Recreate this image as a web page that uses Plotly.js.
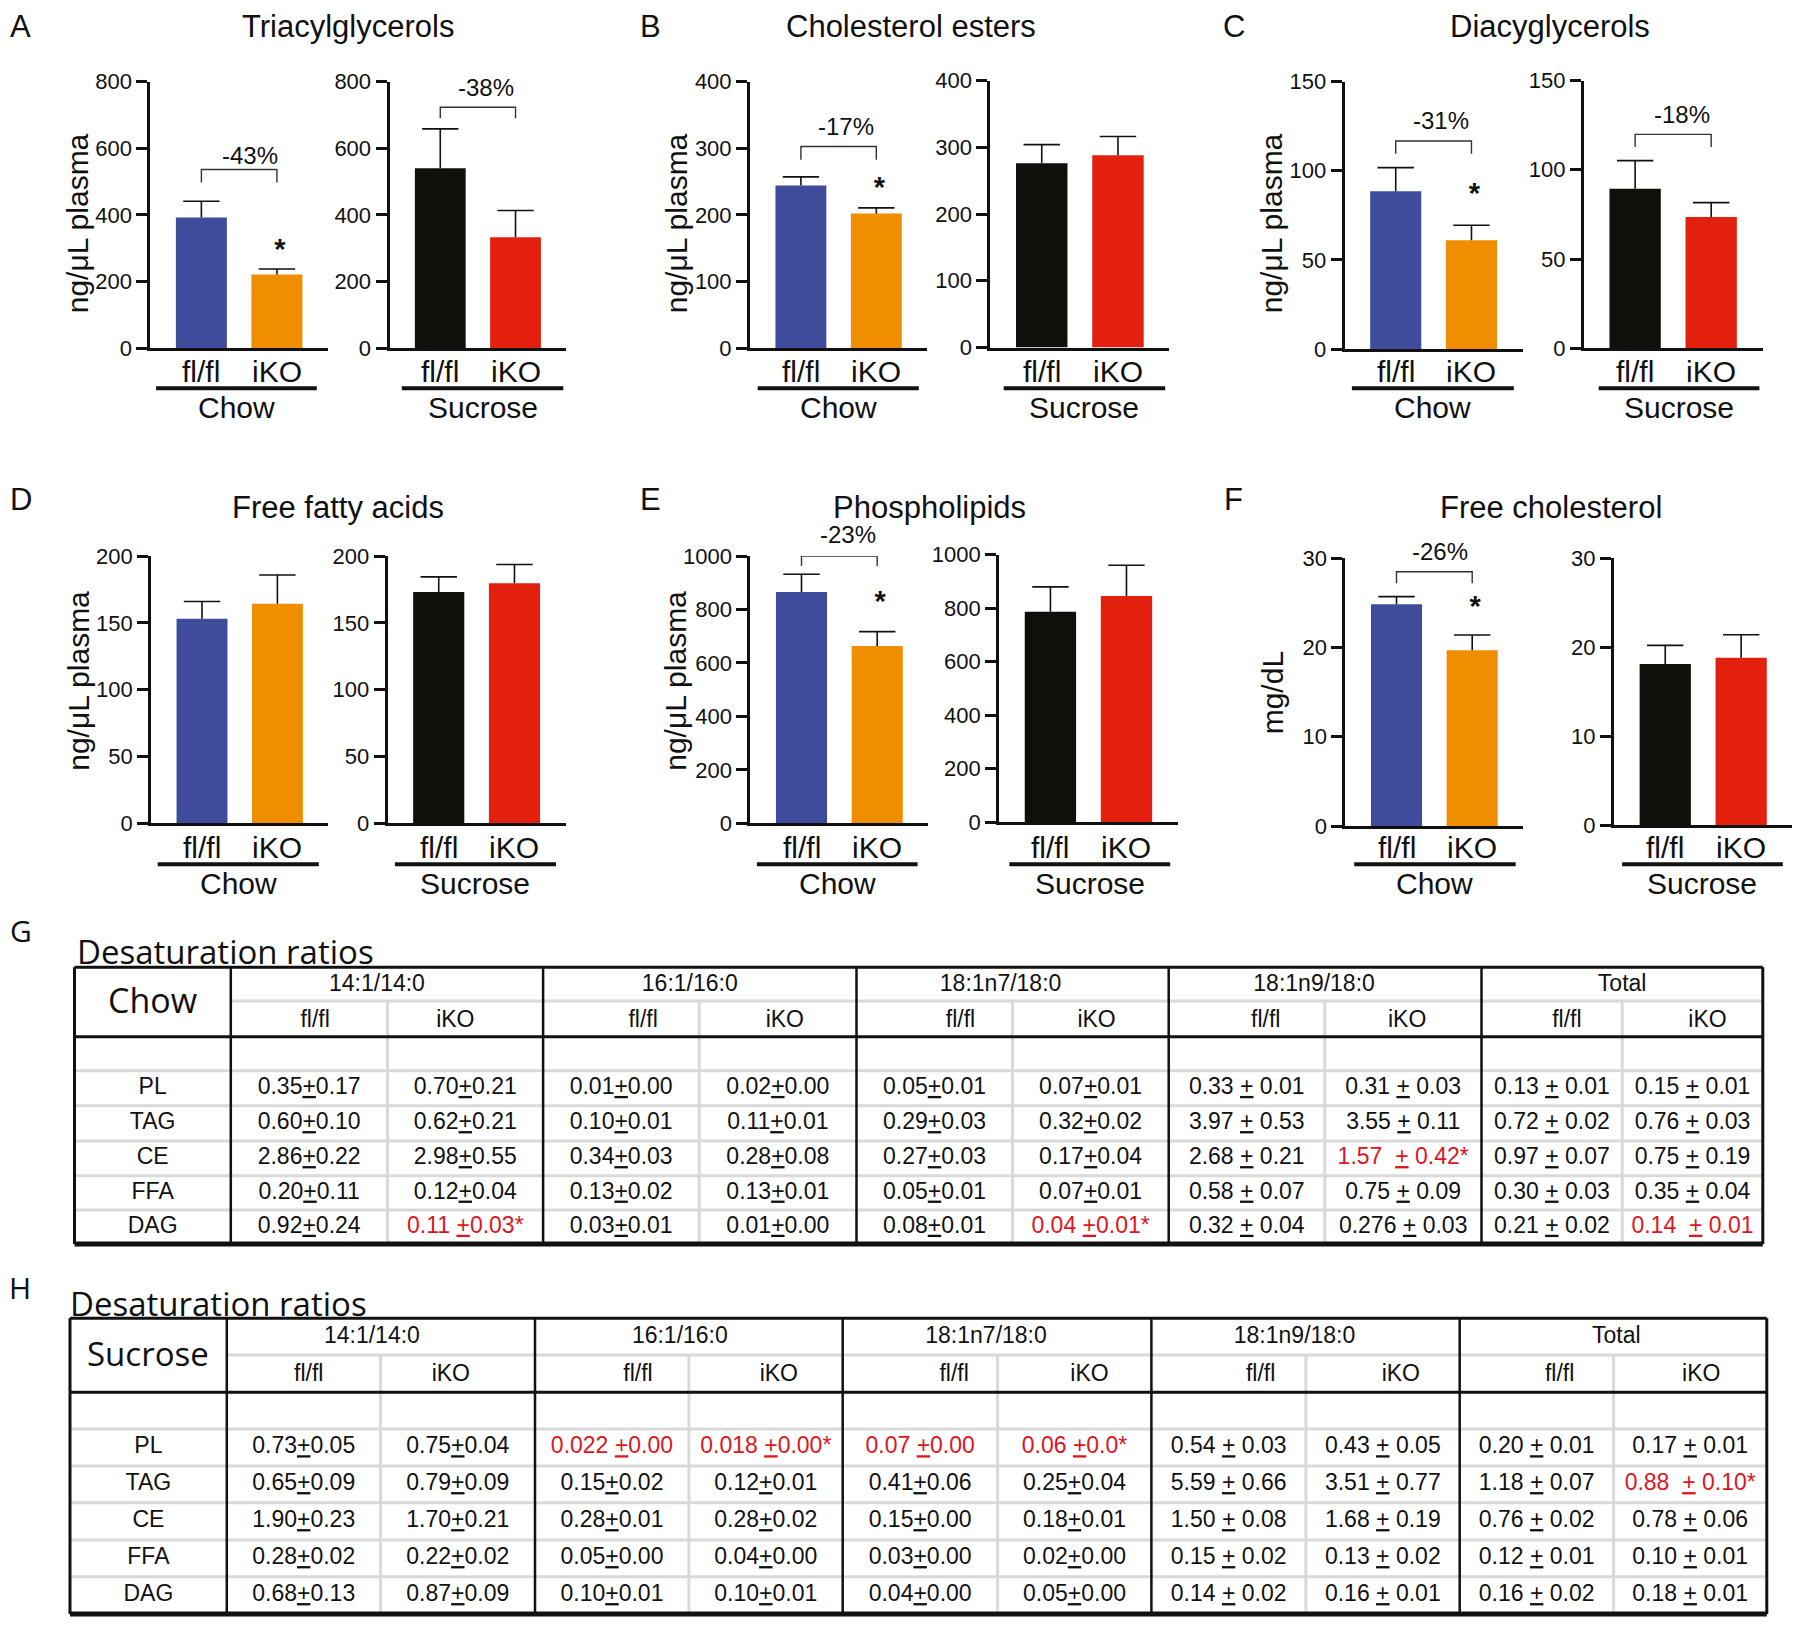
<!DOCTYPE html>
<html><head><meta charset="utf-8">
<script src="https://cdn.plot.ly/plotly-3.0.1.min.js"></script>
<style>body{margin:0;background:#fff}</style>
</head><body><div id="chart" style="width:1800px;height:1625px"></div>
<script>
// ================= DATA =================
const genotypes = ['fl/fl', 'iKO'];
// bar means and error (upper SEM)
const tgChow = [392, 221],   tgChowErr = [49, 17];
const tgSuc  = [540, 333],   tgSucErr  = [118, 80];
const ceChow = [244, 202],   ceChowErr = [13, 8.5];
const ceSuc  = [276, 288],   ceSucErr  = [28, 28];
const dagChow = [88.4, 61],  dagChowErr = [13.3, 8.4];
const dagSuc  = [89.4, 73.6], dagSucErr = [15.7, 8];
const ffaChow = [153, 164.3], ffaChowErr = [13, 21.5];
const ffaSuc  = [173, 179.6], ffaSucErr  = [11.4, 14];
const plChow = [865, 663],   plChowErr = [67, 54];
const plSuc  = [786, 845],   plSucErr  = [93, 115];
const fcChow = [24.85, 19.7], fcChowErr = [0.85, 1.7];
const fcSuc  = [18.1, 18.8],  fcSucErr  = [2.1, 2.6];

const panelTitles = ['Triacylglycerols', 'Cholesterol esters', 'Diacyglycerols', 'Free fatty acids', 'Phospholipids', 'Free cholesterol'];
const panelLetters = ['A', 'B', 'C', 'D', 'E', 'F'];
const yTitles = ['ng/μL plasma', 'ng/μL plasma', 'ng/μL plasma', 'ng/μL plasma', 'ng/μL plasma', 'mg/dL'];
const diets = ['Chow', 'Sucrose'];
const pctLabels = ['-43%', '-38%', '-17%', '-31%', '-18%', '-23%', '-26%'];

// Desaturation ratio tables
const tblGroups = ['14:1/14:0', '16:1/16:0', '18:1n7/18:0', '18:1n9/18:0', 'Total'];
const tblRows = ['PL', 'TAG', 'CE', 'FFA', 'DAG'];
const chowCells = [
  ['0.35±0.17', '0.60±0.10', '2.86±0.22', '0.20±0.11', '0.92±0.24'],
  ['0.70±0.21', '0.62±0.21', '2.98±0.55', '0.12±0.04', '0.11 ±0.03*'],
  ['0.01±0.00', '0.10±0.01', '0.34±0.03', '0.13±0.02', '0.03±0.01'],
  ['0.02±0.00', '0.11±0.01', '0.28±0.08', '0.13±0.01', '0.01±0.00'],
  ['0.05±0.01', '0.29±0.03', '0.27±0.03', '0.05±0.01', '0.08±0.01'],
  ['0.07±0.01', '0.32±0.02', '0.17±0.04', '0.07±0.01', '0.04 ±0.01*'],
  ['0.33 ± 0.01', '3.97 ± 0.53', '2.68 ± 0.21', '0.58 ± 0.07', '0.32 ± 0.04'],
  ['0.31 ± 0.03', '3.55 ± 0.11', '1.57  ± 0.42*', '0.75 ± 0.09', '0.276 ± 0.03'],
  ['0.13 ± 0.01', '0.72 ± 0.02', '0.97 ± 0.07', '0.30 ± 0.03', '0.21 ± 0.02'],
  ['0.15 ± 0.01', '0.76 ± 0.03', '0.75 ± 0.19', '0.35 ± 0.04', '0.14  ± 0.01']
];
const chowRed = [[1, 4], [5, 4], [7, 2], [9, 4]];
const sucCells = [
  ['0.73±0.05', '0.65±0.09', '1.90±0.23', '0.28±0.02', '0.68±0.13'],
  ['0.75±0.04', '0.79±0.09', '1.70±0.21', '0.22±0.02', '0.87±0.09'],
  ['0.022 ±0.00', '0.15±0.02', '0.28±0.01', '0.05±0.00', '0.10±0.01'],
  ['0.018 ±0.00*', '0.12±0.01', '0.28±0.02', '0.04±0.00', '0.10±0.01'],
  ['0.07 ±0.00', '0.41±0.06', '0.15±0.00', '0.03±0.00', '0.04±0.00'],
  ['0.06 ±0.0*', '0.25±0.04', '0.18±0.01', '0.02±0.00', '0.05±0.00'],
  ['0.54 ± 0.03', '5.59 ± 0.66', '1.50 ± 0.08', '0.15 ± 0.02', '0.14 ± 0.02'],
  ['0.43 ± 0.05', '3.51 ± 0.77', '1.68 ± 0.19', '0.13 ± 0.02', '0.16 ± 0.01'],
  ['0.20 ± 0.01', '1.18 ± 0.07', '0.76 ± 0.02', '0.12 ± 0.01', '0.16 ± 0.02'],
  ['0.17 ± 0.01', '0.88  ± 0.10*', '0.78 ± 0.06', '0.10 ± 0.01', '0.18 ± 0.01']
];
const sucRed = [[2, 0], [3, 0], [4, 0], [5, 0], [9, 1]];

// ================= LAYOUT CONFIG =================
const W = 1800, H = 1625;
const F = 'Liberation Sans, Arial, Helvetica, sans-serif';
const F2 = 'Open Sans, Noto Sans, sans-serif';
const colChow = ['#3e4c9b', '#f18e00'];
const colSuc = ['#100f0a', '#e2200d'];
const XR = [-0.675, 1.675];

const subplots = [
  {p:0, v:tgChow, e:tgChowErr, c:colChow, L:150.4, R:327.9, T:81.5, B:348.3, ymax:800, dt:200, ul:[156.1,316.8], br:[497,536], pct:0, pctY:579, pctX:0.65, star:289},
  {p:0, v:tgSuc, e:tgSucErr, c:colSuc, L:389.5, R:566.3, T:81.5, B:348.3, ymax:800, dt:200, ul:[401.8,563.3], br:[690,723], pct:1, pctY:781, pctX:0.61},
  {p:1, v:ceChow, e:ceChowErr, c:colChow, L:750, R:927.2, T:81.5, B:348.3, ymax:400, dt:100, ul:[757.7,918.8], br:[282.7,302.6], pct:2, pctY:332, pctX:0.6, star:238},
  {p:1, v:ceSuc, e:ceSucErr, c:colSuc, L:990.3, R:1169.4, T:80.5, B:347.5, ymax:400, dt:100, ul:[1003.7,1165.2]},
  {p:2, v:dagChow, e:dagChowErr, c:colChow, L:1344.6, R:1522.6, T:81.5, B:349, ymax:150, dt:50, ul:[1351.9,1513.8], br:[109.5,116.6], pct:3, pctY:128.2, pctX:0.6, star:86.2},
  {p:2, v:dagSuc, e:dagSucErr, c:colSuc, L:1583.8, R:1762.5, T:80.5, B:348.3, ymax:150, dt:50, ul:[1598.7,1759.4], br:[112.7,119.8], pct:4, pctY:131, pctX:0.61},
  {p:3, v:ffaChow, e:ffaChowErr, c:colChow, L:151.1, R:328.3, T:556, B:823.3, ymax:200, dt:50, ul:[157.7,318.8]},
  {p:3, v:ffaSuc, e:ffaSucErr, c:colSuc, L:387.6, R:565.6, T:556, B:823.3, ymax:200, dt:50, ul:[394.9,556]},
  {p:4, v:plChow, e:plChowErr, c:colChow, L:750.4, R:928.3, T:556, B:823.3, ymax:1000, dt:200, ul:[756.9,917.6], br:[962.6,1000], pct:5, pctY:1079, pctX:0.61, star:822},
  {p:4, v:plSuc, e:plSucErr, c:colSuc, L:999.1, R:1177.8, T:554.5, B:822.3, ymax:1000, dt:200, ul:[1009.4,1170.2]},
  {p:5, v:fcChow, e:fcChowErr, c:colChow, L:1345.4, R:1523.3, T:558.3, B:826, ymax:30, dt:10, ul:[1354.2,1515.7], br:[27.2,28.5], pct:6, pctY:30.75, pctX:0.58, star:24.4},
  {p:5, v:fcSuc, e:fcSucErr, c:colSuc, L:1614, R:1792.4, T:558.3, B:825, ymax:30, dt:10, ul:[1622.1,1782.8]}
];
const panelPos = [
  {tx:348.3, lx:20.5, yx:77, r:0}, {tx:911.3, lx:650.5, yx:676, r:0}, {tx:1550.1, lx:1234.4, yx:1271, r:0},
  {tx:338.3, lx:21, yx:79, r:1}, {tx:929.9, lx:650.5, yx:676, r:1}, {tx:1550.7, lx:1233.5, yx:1272, r:1}
];
const rowPos = [{titleY:26, letterY:26, tickY:371.5, ulY:388.3, dietY:407, yTitleY:223.3, yTitleYF:223.3},
                {titleY:507, letterY:499, tickY:847, ulY:864.3, dietY:883, yTitleY:680.8, yTitleYF:693.3}];

const tables = [
  {name:'Chow', cells:chowCells, red:chowRed, letter:'G', letterXY:[21,930], titleXY:[75,951],
   xe:[74.5,230.8,387.5,543.1,699.2,856.5,1012.5,1168.7,1324.8,1481.5,1622.2,1762.8],
   ye:[967.3,1001,1036.7,1070.7,1105.7,1141,1175.7,1210,1244], nameSize:34,
   grpOff:[-10,-10,-12,-11,0], subOff:[6,-10,22,7,26,6,19,4,15,15]},
  {name:'Sucrose', cells:sucCells, red:sucRed, letter:'H', letterXY:[20,1287], titleXY:[68,1303],
   xe:[70,226.8,380.6,535,688.9,842.7,997.6,1151.4,1305.9,1459.7,1613.6,1766.8],
   ye:[1318.3,1355,1392.3,1429,1466,1502.7,1540,1576.7,1614], nameSize:33,
   grpOff:[-9,-9,-11,-11,3], subOff:[5,-7,26,13,34,15,32,18,23,11]}
];

// ================= BUILD =================
const traces = [];
const layout = {
  width: W, height: H, margin: {l:0, r:0, t:0, b:0},
  paper_bgcolor: '#fff', plot_bgcolor: 'rgba(0,0,0,0)', showlegend: false,
  font: {family: F, color: '#111'}, annotations: [], shapes: []
};
const OX = 'x13', OY = 'y13';
layout.xaxis13 = {domain:[0,1], range:[0,W], visible:false, anchor:'y13', fixedrange:true};
layout.yaxis13 = {domain:[0,1], range:[H,0], visible:false, anchor:'x13', fixedrange:true};

subplots.forEach((s, i) => {
  const n = i + 1, xa = 'x' + n, ya = 'y' + n;
  const ticks = []; for (let t = 0; t <= s.ymax + 1e-9; t += s.dt) ticks.push(+t.toFixed(6));
  layout['xaxis' + (n === 1 ? '' : n)] = {
    domain: [s.L / W, s.R / W], range: XR, anchor: ya, tickvals: [0, 1], ticktext: genotypes,
    showticklabels: false, ticks: '', showline: true, linewidth: 3, linecolor: '#111',
    showgrid: false, zeroline: false, fixedrange: true
  };
  layout['yaxis' + (n === 1 ? '' : n)] = {
    domain: [1 - s.B / H, 1 - s.T / H], range: [0, s.ymax], anchor: xa, tickvals: ticks,
    ticks: 'outside', ticklen: 11, tickwidth: 3, tickcolor: '#111', showline: true, linewidth: 3,
    linecolor: '#111', showgrid: false, zeroline: false, tickfont: {size: 22, family: F, color: '#111'},
    fixedrange: true, ticklabelstandoff: 0
  };
  traces.push({type: 'bar', x: [0, 1], y: s.v, width: 0.675, xaxis: xa, yaxis: ya,
    marker: {color: s.c, line: {width: 0}},
    error_y: {type: 'data', symmetric: false, array: s.e, arrayminus: [0, 0], width: 0, thickness: 1.6, color: '#111'}});
  traces.push({type: 'scatter', mode: 'markers', x: [0, 1], y: s.v.map((v, k) => v + s.e[k]), xaxis: xa, yaxis: ya,
    cliponaxis: false, marker: {symbol: 'line-ew', size: 26, color: '#111', line: {width: 1.6, color: '#111'}}});
  if (s.br) {
    traces.push({type: 'scatter', mode: 'lines', x: [0, 0, 1, 1], y: [s.br[0], s.br[1], s.br[1], s.br[0]],
      xaxis: xa, yaxis: ya, cliponaxis: false, line: {color: '#333', width: 1.4}});
    layout.annotations.push({xref: xa, yref: ya + ' domain', x: s.pctX, y: s.pctY / s.ymax, text: pctLabels[s.pct],
      showarrow: false, xanchor: 'center', yanchor: 'middle', font: {size: 24, family: F, color: '#111'}});
  }
  if (s.star !== undefined) {
    traces.push({type: 'scatter', mode: 'text', x: [1.04], y: [s.star], text: ['<b>*</b>'],
      xaxis: xa, yaxis: ya, cliponaxis: false, textfont: {size: 29, family: F, color: '#111'}});
  }
  const rp = rowPos[panelPos[s.p].r];
  genotypes.forEach((g, k) => layout.annotations.push({xref: xa, yref: OY, x: k, y: rp.tickY, text: g,
    showarrow: false, xanchor: 'center', yanchor: 'middle', font: {size: 30, family: F, color: '#111'}}));
  layout.shapes.push({type: 'line', xref: OX, yref: OY, x0: s.ul[0], x1: s.ul[1], y0: rp.ulY, y1: rp.ulY,
    line: {width: 4, color: '#111'}});
  layout.annotations.push({xref: OX, yref: OY, x: (s.ul[0] + s.ul[1]) / 2, y: rp.dietY, text: diets[i % 2],
    showarrow: false, xanchor: 'center', yanchor: 'middle', font: {size: 30, family: F, color: '#111'}});
});

panelPos.forEach((pp, j) => {
  const rp = rowPos[pp.r];
  layout.annotations.push({xref: OX, yref: OY, x: pp.tx, y: rp.titleY, text: panelTitles[j], showarrow: false,
    xanchor: 'center', yanchor: 'middle', font: {size: 31, family: F, color: '#111'}});
  layout.annotations.push({xref: OX, yref: OY, x: pp.lx, y: rp.letterY, text: panelLetters[j], showarrow: false,
    xanchor: 'center', yanchor: 'middle', font: {size: 31, family: F, color: '#111'}});
  layout.annotations.push({xref: OX, yref: OY, x: pp.yx, y: (j === 5 ? rp.yTitleYF : rp.yTitleY), text: yTitles[j],
    showarrow: false, textangle: -90, xanchor: 'center', yanchor: 'middle', font: {size: 30, family: F, color: '#111'}});
});

// ---- tables ----
const fmt = s => s.replace(/ /g, '\u00a0').replace('±', '<u>+</u>');
tables.forEach(t => {
  const xe = t.xe, ye = t.ye, x0 = xe[0], xN = xe[xe.length - 1], y0 = ye[0], yN = ye[ye.length - 1];
  const gray = '#d9d9d9', blk = '#111';
  const line = (xa, ya, xb, yb, w, c) => layout.shapes.push({type: 'line', xref: OX, yref: OY,
    x0: xa, y0: ya, x1: xb, y1: yb, line: {width: w, color: c}});
  line(xe[1], ye[1], xN, ye[1], 3, gray);
  for (let r = 3; r < ye.length - 1; r++) line(x0, ye[r], xN, ye[r], 3, gray);
  for (let c = 2; c < xe.length - 1; c += 2) line(xe[c], ye[1], xe[c], yN, 3, gray);
  line(x0, y0, xN, y0, 3, blk);
  line(x0, ye[2], xN, ye[2], 3, blk);
  line(x0, yN, xN, yN, 5, blk);
  [0, 1, 3, 5, 7, 9, xe.length - 1].forEach(c => line(xe[c], y0, xe[c], yN, c === 0 || c === xe.length - 1 ? 3 : 2.5, blk));

  const tx = [], ty = [], tt = [], tc = [];
  tblGroups.forEach((g, k) => { tx.push((xe[1 + 2 * k] + xe[3 + 2 * k]) / 2 + t.grpOff[k]); ty.push((ye[0] + ye[1]) / 2 + 1); tt.push(g); tc.push(blk); });
  for (let k = 0; k < 10; k++) { tx.push((xe[1 + k] + xe[2 + k]) / 2 + t.subOff[k]); ty.push((ye[1] + ye[2]) / 2 + 2); tt.push(genotypes[k % 2]); tc.push(blk); }
  tblRows.forEach((r, i) => { tx.push((xe[0] + xe[1]) / 2); ty.push((ye[3 + i] + ye[4 + i]) / 2); tt.push(r); tc.push(blk); });
  t.cells.forEach((col, k) => col.forEach((cell, i) => {
    const isRed = t.red.some(p => p[0] === k && p[1] === i);
    tx.push((xe[1 + k] + xe[2 + k]) / 2); ty.push((ye[3 + i] + ye[4 + i]) / 2); tt.push(fmt(cell)); tc.push(isRed ? '#e0141e' : blk);
  }));
  traces.push({type: 'scatter', mode: 'text', x: tx, y: ty, text: tt, xaxis: OX, yaxis: OY, cliponaxis: false,
    textfont: {size: 23, family: F, color: tc}, hoverinfo: 'skip'});
  layout.annotations.push({xref: OX, yref: OY, x: (xe[0] + xe[1]) / 2, y: (ye[0] + ye[2]) / 2 - 2, text: t.name,
    showarrow: false, xanchor: 'center', yanchor: 'middle', font: {size: t.nameSize, family: F2, color: blk}});
  layout.annotations.push({xref: OX, yref: OY, x: t.titleXY[0], y: t.titleXY[1], text: 'Desaturation ratios',
    showarrow: false, xanchor: 'left', yanchor: 'middle', font: {size: 33, family: F2, color: blk}});
  layout.annotations.push({xref: OX, yref: OY, x: t.letterXY[0], y: t.letterXY[1], text: t.letter,
    showarrow: false, xanchor: 'center', yanchor: 'middle', font: {size: 30, family: F2, color: blk}});
});

Plotly.newPlot('chart', traces, layout, {staticPlot: true, displayModeBar: false});
</script></body></html>
